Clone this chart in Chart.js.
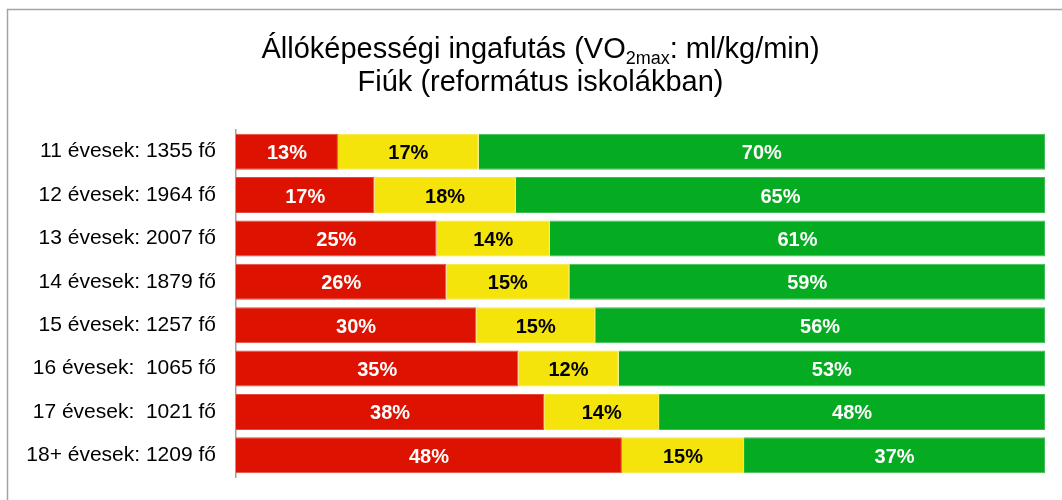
<!DOCTYPE html>
<html>
<head>
<meta charset="utf-8">
<script src="https://cdn.jsdelivr.net/npm/chart.js@4/dist/chart.umd.min.js"></script>
<style>
  html, body { margin: 0; padding: 0; background: #fff; }
  #wrap { width: 1062px; height: 500px; position: relative; }
</style>
</head>
<body>
<div id="wrap"><canvas id="c" width="1062" height="500"></canvas></div>
<script>
// ---- data ----
const categories = [
  '11 évesek: 1355 fő',
  '12 évesek: 1964 fő',
  '13 évesek: 2007 fő',
  '14 évesek: 1879 fő',
  '15 évesek: 1257 fő',
  '16 évesek:  1065 fő',
  '17 évesek:  1021 fő',
  '18+ évesek: 1209 fő'
];
const redValues    = [12.6, 17.1, 24.8, 26.0, 29.7, 34.9, 38.1, 47.7];
const yellowValues = [17.4, 17.5, 14.0, 15.2, 14.7, 12.4, 14.2, 15.1];
const greenValues  = [70.0, 65.4, 61.2, 58.8, 55.6, 52.7, 47.7, 37.2];
const titleLine1Parts = ['Állóképességi ingafutás (VO', '2max', ': ml/kg/min)'];
const titleLine2 = 'Fiúk (református iskolákban)';

const FONT = '"Liberation Sans", Arial, sans-serif';

const framePlugin = {
  id: 'frame',
  beforeDraw(chart) {
    const ctx = chart.ctx;
    ctx.save();
    ctx.strokeStyle = '#a3a3a3';
    ctx.lineWidth = 1.5;
    ctx.beginPath();
    ctx.moveTo(7.5, 500);
    ctx.lineTo(7.5, 9.5);
    ctx.lineTo(1062, 9.5);
    ctx.stroke();
    ctx.restore();
  }
};

const titlePlugin = {
  id: 'subTitle',
  afterDraw(chart) {
    const ctx = chart.ctx;
    ctx.save();
    ctx.fillStyle = '#000';
    ctx.textBaseline = 'alphabetic';
    ctx.textAlign = 'left';
    const big = '29px ' + FONT, small = '18px ' + FONT;
    ctx.font = big; const w1 = ctx.measureText(titleLine1Parts[0]).width;
    ctx.font = small; const w2 = ctx.measureText(titleLine1Parts[1]).width;
    ctx.font = big; const w3 = ctx.measureText(titleLine1Parts[2]).width;
    const cx = 540.5;
    let x = cx - (w1 + w2 + w3) / 2;
    const y1 = 58;
    ctx.font = big; ctx.fillText(titleLine1Parts[0], x, y1); x += w1;
    ctx.font = small; ctx.fillText(titleLine1Parts[1], x, y1 + 6); x += w2;
    ctx.font = big; ctx.fillText(titleLine1Parts[2], x, y1);
    ctx.textAlign = 'center';
    ctx.fillText(titleLine2, cx, 91);
    ctx.restore();
  }
};

const labelPlugin = {
  id: 'barLabels',
  afterDatasetsDraw(chart) {
    const ctx = chart.ctx;
    ctx.save();
    ctx.font = 'bold 20px ' + FONT;
    ctx.textAlign = 'center';
    ctx.textBaseline = 'middle';
    chart.data.datasets.forEach((ds, di) => {
      const meta = chart.getDatasetMeta(di);
      meta.data.forEach((el, i) => {
        const v = ds.data[i];
        ctx.fillStyle = ds.labelColor;
        ctx.fillText(Math.round(v) + '%', (el.x + el.base) / 2, el.y + 2);
      });
    });
    ctx.restore();
  }
};

new Chart(document.getElementById('c'), {
  type: 'bar',
  data: {
    labels: categories,
    datasets: [
      { label: 'red', data: redValues, backgroundColor: '#DE1200', borderColor: '#E44A3C', borderWidth: 1, labelColor: '#ffffff' },
      { label: 'yellow', data: yellowValues, backgroundColor: '#F5E40C', borderColor: '#F5E83A', borderWidth: 1, labelColor: '#000000' },
      { label: 'green', data: greenValues, backgroundColor: '#05AB20', borderColor: '#3DBE52', borderWidth: 1, labelColor: '#ffffff' }
    ]
  },
  options: {
    indexAxis: 'y',
    responsive: false,
    animation: false,
    events: [],
    barPercentage: 0.83,
    categoryPercentage: 1,
    layout: { padding: { top: 130, bottom: 23, left: 0, right: 17 } },
    plugins: { legend: { display: false }, title: { display: false }, tooltip: { enabled: false } },
    scales: {
      x: { stacked: true, min: 0, max: 100, display: false },
      y: {
        stacked: true,
        afterFit(scale) { scale.width = 236; scale.paddingTop = 0; scale.paddingBottom = 0; },
        grid: { display: false, drawTicks: false },
        border: { display: true, color: '#a0a0a0', width: 1.5 },
        ticks: { color: '#000', font: { family: FONT, size: 21 }, padding: 20, autoSkip: false }
      }
    }
  },
  plugins: [framePlugin, titlePlugin, labelPlugin]
});
</script>
</body>
</html>
